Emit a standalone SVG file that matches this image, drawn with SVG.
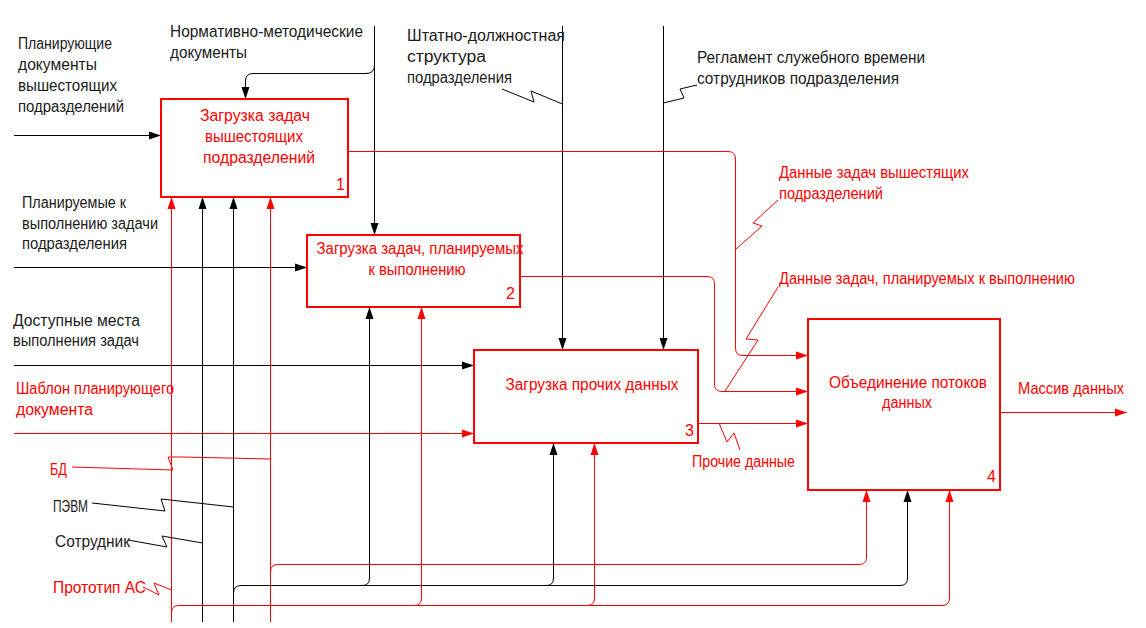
<svg xmlns="http://www.w3.org/2000/svg" width="1146" height="628" viewBox="0 0 1146 628">
<defs>
<style>
.bg{fill:#ffffff}
.box{fill:none;stroke:#ff0000;stroke-width:2}
.t{font-family:"Liberation Sans Narrow","Liberation Sans",Arial,sans-serif;font-size:16px}
.tk{fill:#1a1a1a}
.tr{fill:#ff0000}
.mid{text-anchor:middle}
.lk{fill:none;stroke:#000000;stroke-width:1}
.lr{fill:none;stroke:#ff0000;stroke-width:1}
.ak{marker-end:url(#ahk)}
.ar{marker-end:url(#ahr)}
</style>
<marker id="ahk" markerUnits="userSpaceOnUse" markerWidth="13" markerHeight="9" refX="12" refY="4.5" orient="auto">
<path d="M0,0.5 L12,4.5 L0,8.5 Z" fill="#000000"/>
</marker>
<marker id="ahr" markerUnits="userSpaceOnUse" markerWidth="13" markerHeight="9" refX="12" refY="4.5" orient="auto">
<path d="M0,0.5 L12,4.5 L0,8.5 Z" fill="#ff0000"/>
</marker>
</defs>
<rect class="bg" x="0" y="0" width="1146" height="628"/>

<g id="connectors">
  <!-- black inputs -->
  <path class="lk ak" d="M14,135.5 H161"/>
  <path class="lk ak" d="M14,267.5 H307"/>
  <path class="lk ak" d="M14,365.5 H474"/>
  <!-- red input -->
  <path class="lr ar" d="M14,433.5 H474"/>
  <!-- controls -->
  <path class="lk ak" d="M374.5,26 V235"/>
  <path class="lk ak" d="M374.5,65 Q374.5,73.5 366,73.5 H253 Q245.5,73.5 245.5,81 V99"/>
  <path class="lk ak" d="M562.5,26 V350"/>
  <path class="lk ak" d="M663.5,26 V350"/>
  <!-- mechanisms box 1 -->
  <path class="lr ar" d="M171.5,622 V197"/>
  <path class="lk ak" d="M202.5,622 V197"/>
  <path class="lk ak" d="M233.5,622 V197"/>
  <path class="lr ar" d="M270.5,622 V197"/>
  <!-- black mechanism bus -->
  <path class="lk ak" d="M233.5,593 Q233.5,585.5 241,585.5 H900 Q907.5,585.5 907.5,578 V490"/>
  <path class="lk ak" d="M362,585.5 Q369.5,585.5 369.5,578 V307"/>
  <path class="lk ak" d="M546,585.5 Q553.5,585.5 553.5,578 V443"/>
  <!-- red bus from БД -->
  <path class="lr ar" d="M270.5,572 Q270.5,564.5 278,564.5 H859 Q866.5,564.5 866.5,557 V490"/>
  <!-- red bus from Прототип АС -->
  <path class="lr ar" d="M171.5,613 Q171.5,605.5 179,605.5 H942 Q949.5,605.5 949.5,598 V490"/>
  <path class="lr ar" d="M414,605.5 Q421.5,605.5 421.5,598 V307"/>
  <path class="lr ar" d="M587,605.5 Q594.5,605.5 594.5,598 V443"/>
  <!-- outputs -->
  <path class="lr ar" d="M348,151.5 H728 Q735.5,151.5 735.5,159 V348 Q735.5,355.5 743,355.5 H808"/>
  <path class="lr ar" d="M520,276.5 H707 Q714.5,276.5 714.5,284 V384 Q714.5,391.5 722,391.5 H808"/>
  <path class="lr ar" d="M698,423.5 H808"/>
  <path class="lr ar" d="M1000,412.5 H1127"/>
  <!-- label leaders -->
  <path class="lk" d="M502,89 L534,102 L531,91 L562.5,104"/>
  <path class="lk" d="M697,85 L680,89 L684,98 L663.5,103"/>
  <path class="lr" d="M736,249 L762,226 L753,223 L778,200"/>
  <path class="lr" d="M725,391 L758,340 L746,339 L778,287"/>
  <path class="lr" d="M719,423 L727,442 L734,433 L740,450"/>
  <path class="lr" d="M72,467 L173,470 L168,457 L183,457 L270.5,459"/>
  <path class="lk" d="M92,503 L165,511 L161,499 L233.5,507"/>
  <path class="lk" d="M128,540 L167,547 L162,536 L202.5,543"/>
  <path class="lr" d="M143,587 L159,595 L154,583 L171.5,590"/>

  <g id="labels">
    <text class="t tk" x="18" y="49" textLength="94" lengthAdjust="spacingAndGlyphs">Планирующие</text>
    <text class="t tk" x="18" y="70" textLength="79" lengthAdjust="spacingAndGlyphs">документы</text>
    <text class="t tk" x="18" y="91" textLength="99" lengthAdjust="spacingAndGlyphs">вышестоящих</text>
    <text class="t tk" x="18" y="112" textLength="106" lengthAdjust="spacingAndGlyphs">подразделений</text>

    <text class="t tk" x="170" y="37" textLength="193" lengthAdjust="spacingAndGlyphs">Нормативно-методические</text>
    <text class="t tk" x="170" y="58" textLength="77" lengthAdjust="spacingAndGlyphs">документы</text>

    <text class="t tk" x="22" y="208" textLength="104" lengthAdjust="spacingAndGlyphs">Планируемые к</text>
    <text class="t tk" x="22" y="229" textLength="136" lengthAdjust="spacingAndGlyphs">выполнению задачи</text>
    <text class="t tk" x="22" y="249" textLength="105" lengthAdjust="spacingAndGlyphs">подразделения</text>

    <text class="t tk" x="13" y="326" textLength="127" lengthAdjust="spacingAndGlyphs">Доступные места</text>
    <text class="t tk" x="13" y="346" textLength="126" lengthAdjust="spacingAndGlyphs">выполнения задач</text>

    <text class="t tr" x="16" y="394" textLength="158" lengthAdjust="spacingAndGlyphs">Шаблон планирующего</text>
    <text class="t tr" x="16" y="415" textLength="77" lengthAdjust="spacingAndGlyphs">документа</text>

    <text class="t tk" x="407" y="41" textLength="158" lengthAdjust="spacingAndGlyphs">Штатно-должностная</text>
    <text class="t tk" x="407" y="62" textLength="79" lengthAdjust="spacingAndGlyphs">структура</text>
    <text class="t tk" x="407" y="83" textLength="105" lengthAdjust="spacingAndGlyphs">подразделения</text>

    <text class="t tk" x="697" y="63" textLength="228" lengthAdjust="spacingAndGlyphs">Регламент служебного времени</text>
    <text class="t tk" x="697" y="84" textLength="202" lengthAdjust="spacingAndGlyphs">сотрудников подразделения</text>

    <text class="t tr" x="779" y="178" textLength="190" lengthAdjust="spacingAndGlyphs">Данные задач вышестящих</text>
    <text class="t tr" x="779" y="199" textLength="104" lengthAdjust="spacingAndGlyphs">подразделений</text>
    <text class="t tr" x="779" y="284" textLength="296" lengthAdjust="spacingAndGlyphs">Данные задач, планируемых к выполнению</text>
    <text class="t tr" x="692" y="467" textLength="103" lengthAdjust="spacingAndGlyphs">Прочие данные</text>
    <text class="t tr" x="1018" y="394" textLength="106" lengthAdjust="spacingAndGlyphs">Массив данных</text>

    <text class="t tr" x="50" y="475" textLength="17" lengthAdjust="spacingAndGlyphs">БД</text>
    <text class="t tk" x="53" y="512" textLength="35" lengthAdjust="spacingAndGlyphs">ПЭВМ</text>
    <text class="t tk" x="55" y="547" textLength="75" lengthAdjust="spacingAndGlyphs">Сотрудник</text>
    <text class="t tr" x="53" y="593" textLength="93" lengthAdjust="spacingAndGlyphs">Прототип АС</text>
  </g>
</g>

<g id="node1">
  <rect class="box" x="161" y="99" width="187" height="98"/>
  <text class="t tr mid" x="255" y="121" textLength="110" lengthAdjust="spacingAndGlyphs">Загрузка задач</text>
  <text class="t tr mid" x="254" y="142" textLength="98" lengthAdjust="spacingAndGlyphs">вышестоящих</text>
  <text class="t tr mid" x="259" y="163" textLength="112" lengthAdjust="spacingAndGlyphs">подразделений</text>
  <text class="t tr" x="336" y="190">1</text>
</g>

<g id="node2">
  <rect class="box" x="307" y="235" width="213" height="72"/>
  <text class="t tr mid" x="420" y="254" textLength="207" lengthAdjust="spacingAndGlyphs">Загрузка задач, планируемых</text>
  <text class="t tr mid" x="417" y="275" textLength="97" lengthAdjust="spacingAndGlyphs">к выполнению</text>
  <text class="t tr" x="506" y="299">2</text>
</g>

<g id="node3">
  <rect class="box" x="474" y="350" width="224" height="93"/>
  <text class="t tr mid" x="592" y="390" textLength="173" lengthAdjust="spacingAndGlyphs">Загрузка прочих данных</text>
  <text class="t tr" x="685" y="436">3</text>
</g>

<g id="node4">
  <rect class="box" x="808" y="319" width="192" height="171"/>
  <text class="t tr mid" x="908" y="388" textLength="158" lengthAdjust="spacingAndGlyphs">Объединение потоков</text>
  <text class="t tr mid" x="907" y="408" textLength="50" lengthAdjust="spacingAndGlyphs">данных</text>
  <text class="t tr" x="987" y="482">4</text>
</g>
</svg>
